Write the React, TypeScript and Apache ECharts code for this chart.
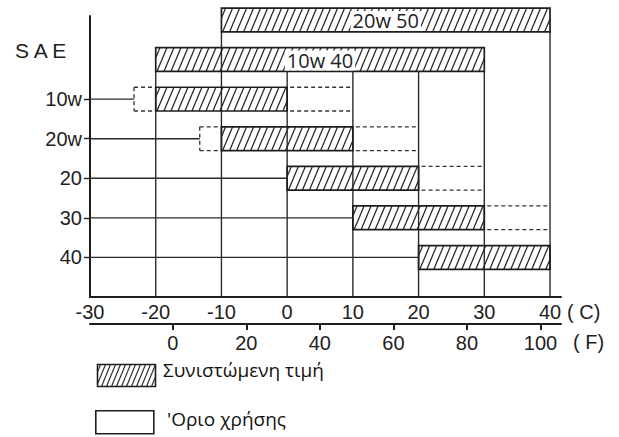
import React, { useEffect, useRef } from 'react';
import * as echarts from 'echarts';

// ---- data ----
const gradeLabels = ['40', '30', '20', '20w', '10w'];
const gradeRows = [1, 2, 3, 4, 5];
const recommendedFrom = [20, 10, 0, -10, -20];
const recommendedTo = [40, 30, 20, 10, 0];
const limitFrom = [20, 10, 0, -13.3, -23.3];
const limitTo = [40, 40, 30, 20, 10];
const multigradeLabels = ['10w 40', '20w 50'];
const multigradeRows = [6, 7];
const multigradeFrom = [-20, -10];
const multigradeTo = [30, 40];
const gridLineC = [-20, -10, 0, 10, 20, 30, 40];
const gridLineTopRow = [6, 7, 6, 6, 6, 6, 7];
const celsiusTicks = [-30, -20, -10, 0, 10, 20, 30, 40];
const fahrenheitTicks = [0, 20, 40, 60, 80, 100];
const legendLabels = ['Συνιστώμενη τιμή', "'Οριο χρήσης"];

const HALF = 0.3;
const INK = '#1e1e1e';
const AXIS_FONT = 'Liberation Sans, Arial, sans-serif';

function hatch(x0: number, x1: number, yTop: number, yBot: number, spacing: number, run: number, lw: number) {
  const out: any[] = [];
  const h = yBot - yTop;
  for (let c = x0 - run + spacing * 0.6; c < x1; c += spacing) {
    let xa = c, ya = yBot, xb = c + run, yb = yTop;
    if (xa < x0) { const t = (x0 - c) / run; xa = x0; ya = yBot - t * h; }
    if (xb > x1) { const t = (x1 - c) / run; xb = x1; yb = yBot - t * h; }
    if (xb - xa < 0.5) continue;
    out.push({ type: 'line', shape: { x1: xa, y1: ya, x2: xb, y2: yb }, style: { stroke: '#262626', lineWidth: lw } });
  }
  return out;
}

function hatchedBar(api: any, from: number, to: number, row: number, label?: string) {
  const pa = api.coord([from, row + HALF]);
  const pb = api.coord([to, row - HALF]);
  const x0 = pa[0], x1 = pb[0], yT = pa[1], yB = pb[1];
  const children: any[] = hatch(x0, x1, yT, yB, 7, (yB - yT) * 0.42, 1.25);
  children.push({
    type: 'rect',
    shape: { x: x0, y: yT, width: x1 - x0, height: yB - yT },
    style: { fill: 'none', stroke: INK, lineWidth: 1.7 },
  });
  if (label) {
    children.push({
      type: 'text',
      x: (x0 + x1) / 2,
      y: (yT + yB) / 2 + 1,
      style: {
        text: label, fill: INK, fontSize: 20, fontFamily: 'Open Sans, sans-serif',
        align: 'center', verticalAlign: 'middle', backgroundColor: '#fff', padding: [0, 2],
      },
    });
  }
  return { type: 'group', children };
}

export default function App() {
  const ref = useRef<HTMLDivElement>(null);
  useEffect(() => {
    if (!ref.current) return;
    const chart = echarts.init(ref.current, null, { renderer: 'svg' });

    const legendY = [362, 410];
    const option: any = {
      animation: false,
      backgroundColor: '#fff',
      grid: { left: 90, right: 58, top: 16, bottom: 140 },
      xAxis: [
        {
          type: 'value', min: -30, max: 41.67, position: 'bottom',
          axisLine: { show: true, onZero: false, lineStyle: { color: INK, width: 2 } },
          axisTick: { show: false },
          splitLine: { show: false },
          axisLabel: { customValues: celsiusTicks, margin: 5, fontSize: 20, color: INK, fontFamily: AXIS_FONT },
        },
        {
          type: 'value', min: -22.5, max: 105.56, position: 'bottom', offset: 27,
          axisLine: { show: true, onZero: false, lineStyle: { color: INK, width: 2 } },
          axisTick: { show: true, customValues: fahrenheitTicks, length: 6, lineStyle: { color: INK, width: 2 } },
          splitLine: { show: false },
          axisLabel: { customValues: fahrenheitTicks, margin: 9, fontSize: 20, color: INK, fontFamily: AXIS_FONT },
        },
      ],
      yAxis: {
        type: 'value', min: 0, max: 7.1,
        axisLine: { show: true, onZero: false, lineStyle: { color: INK, width: 2 } },
        axisTick: { show: true, customValues: gradeRows, length: 6, lineStyle: { color: INK, width: 1.4 } },
        splitLine: { show: false },
        axisLabel: {
          customValues: gradeRows, margin: 8, fontSize: 20, color: INK, fontFamily: AXIS_FONT,
          formatter: (v: number) => gradeLabels[gradeRows.indexOf(Math.round(v))] ?? '',
        },
      },
      series: [
        {
          type: 'custom', name: 'grid', xAxisIndex: 0, silent: true,
          data: gridLineC.map((x, i) => [x, gridLineTopRow[i]]),
          renderItem: (_p: any, api: any) => {
            const x = api.value(0), top = api.value(1);
            const a = api.coord([x, 0]);
            const b = api.coord([x, top - HALF]);
            return { type: 'line', shape: { x1: a[0], y1: a[1], x2: b[0], y2: b[1] }, style: { stroke: '#2a2a2a', lineWidth: 1.4 } };
          },
        },
        {
          type: 'custom', name: 'rows', xAxisIndex: 0, silent: true,
          data: gradeRows.map((r, i) => [limitFrom[i], r]),
          renderItem: (_p: any, api: any) => {
            const a = api.coord([-30, api.value(1)]);
            const b = api.coord([api.value(0), api.value(1)]);
            return { type: 'line', shape: { x1: a[0], y1: a[1], x2: b[0], y2: b[1] }, style: { stroke: '#2a2a2a', lineWidth: 1.4 } };
          },
        },
        {
          type: 'custom', name: "'Οριο χρήσης", xAxisIndex: 0, silent: true,
          data: gradeRows.map((r, i) => [recommendedFrom[i], recommendedTo[i], limitFrom[i], limitTo[i], r]),
          renderItem: (_p: any, api: any) => {
            const rf = api.value(0), rt = api.value(1), lf = api.value(2), lt = api.value(3), r = api.value(4);
            const children: any[] = [];
            const st = { stroke: '#333', lineWidth: 1.3, lineDash: [4, 3] };
            if (lf < rf) {
              const a = api.coord([lf, r + HALF]);
              const b = api.coord([rf, r - HALF]);
              children.push({ type: 'line', shape: { x1: a[0], y1: a[1], x2: b[0], y2: a[1] }, style: st });
              children.push({ type: 'line', shape: { x1: a[0], y1: b[1], x2: b[0], y2: b[1] }, style: st });
              children.push({ type: 'line', shape: { x1: a[0], y1: a[1], x2: a[0], y2: b[1] }, style: st });
            }
            if (lt > rt) {
              const a = api.coord([rt, r + HALF]);
              const b = api.coord([lt, r - HALF]);
              children.push({ type: 'line', shape: { x1: a[0] + 3, y1: a[1], x2: b[0], y2: a[1] }, style: st });
              children.push({ type: 'line', shape: { x1: a[0] + 3, y1: b[1], x2: b[0], y2: b[1] }, style: st });
            }
            return { type: 'group', children };
          },
        },
        {
          type: 'custom', name: 'Συνιστώμενη τιμή', xAxisIndex: 0, silent: true,
          data: gradeRows.map((r, i) => [recommendedFrom[i], recommendedTo[i], r]),
          renderItem: (_p: any, api: any) => hatchedBar(api, api.value(0), api.value(1), api.value(2)),
        },
        {
          type: 'custom', name: 'multigrade', xAxisIndex: 0, silent: true, clip: false,
          data: multigradeRows.map((r, i) => [multigradeFrom[i], multigradeTo[i], r]),
          renderItem: (p: any, api: any) =>
            hatchedBar(api, api.value(0), api.value(1), api.value(2), multigradeLabels[p.dataIndex]),
        },
      ],
      graphic: [
        { type: 'text', left: 15, top: 40, style: { text: 'S A E', fill: INK, font: `21px ${AXIS_FONT}` } },
        { type: 'text', left: 567, top: 302, style: { text: '( C)', fill: INK, font: `20px ${AXIS_FONT}` } },
        { type: 'text', left: 573, top: 332, style: { text: '( F)', fill: INK, font: `20px ${AXIS_FONT}` } },
        {
          type: 'group', left: 95, top: legendY[0],
          children: [
            ...hatch(0, 58, 0, 22, 5, 9, 1.1),
            { type: 'rect', shape: { x: 0, y: 0, width: 58, height: 22 }, style: { fill: 'none', stroke: INK, lineWidth: 1.6 } },
          ],
        },
        {
          type: 'rect', left: 95, top: legendY[1],
          shape: { x: 0, y: 0, width: 58, height: 23 }, style: { fill: '#fff', stroke: INK, lineWidth: 1.6 },
        },
        { type: 'text', left: 163, top: legendY[0] - 2, style: { text: legendLabels[0], fill: '#111', font: '19px "Open Sans", sans-serif' } },
        { type: 'text', left: 167, top: legendY[1] - 1, style: { text: legendLabels[1], fill: '#111', font: '19px "Open Sans", sans-serif' } },
      ],
    };
    chart.setOption(option);
    return () => chart.dispose();
  }, []);
  return <div ref={ref} style={{ position: 'fixed', left: 0, top: 0, width: 619, height: 437, background: '#fff' }} />;
}
